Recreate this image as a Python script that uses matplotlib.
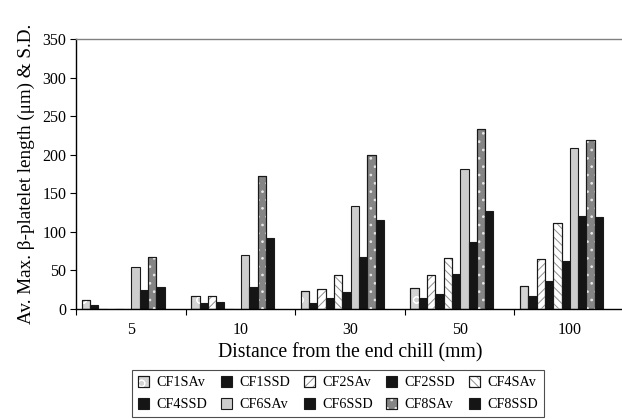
import numpy as np
import matplotlib
matplotlib.use("Agg")
import matplotlib.pyplot as plt
from matplotlib.patches import Patch

plt.rcParams['font.family'] = ['Liberation Serif', 'DejaVu Serif']
plt.rcParams['hatch.linewidth'] = 0.7

categories = ['5', '10', '30', '50', '100']
series_names = ['CF1SAv', 'CF1SSD', 'CF2SAv', 'CF2SSD', 'CF4SAv',
                'CF4SSD', 'CF6SAv', 'CF6SSD', 'CF8SAv', 'CF8SSD']
CF1SAv = [12, 17, 23, 27, 30]
CF1SSD = [5, 8, 8, 14, 17]
CF2SAv = [0, 17, 26, 44, 65]
CF2SSD = [0, 9, 14, 20, 36]
CF4SAv = [0, 0, 44, 66, 111]
CF4SSD = [0, 0, 22, 46, 62]
CF6SAv = [55, 70, 133, 182, 209]
CF6SSD = [25, 29, 67, 87, 120]
CF8SAv = [68, 172, 199, 233, 219]
CF8SSD = [28, 92, 115, 127, 119]
values = [CF1SAv, CF1SSD, CF2SAv, CF2SSD, CF4SAv,
          CF4SSD, CF6SAv, CF6SSD, CF8SAv, CF8SSD]

# style: (face, hatch, hatch colour)
styles = [
    ('#d4d4d4', 'o', '#ffffff'),
    ('#151515', None, None),
    ('#ffffff', '////', '#909090'),
    ('#151515', None, None),
    ('#ffffff', '\\\\\\\\', '#909090'),
    ('#151515', None, None),
    ('#cdcdcd', None, None),
    ('#151515', None, None),
    ('#858585', '..', '#e8e8e8'),
    ('#151515', None, None),
]

fig = plt.figure(figsize=(6.22, 4.19), dpi=100)
ax = fig.add_axes([76/622, 1-309/419, 548/622, 270/419])

n_cat = len(categories)
x0 = np.arange(n_cat)
bw = 0.0757
start = 0.052
handles = []
for k, (vals, (fc, hatch, hc)) in enumerate(zip(values, styles)):
    xs = x0 + start + k*bw
    ax.bar(xs, vals, width=bw, align='edge', color=fc, edgecolor='#1a1a1a',
           linewidth=0.8, zorder=2)
    ph = Patch(facecolor=fc, edgecolor='#1a1a1a', linewidth=0.8)
    if hatch:
        ax.bar(xs, vals, width=bw, align='edge', fill=False, hatch=hatch,
               edgecolor=hc, linewidth=0, zorder=3)
        ax.bar(xs, vals, width=bw, align='edge', fill=False,
               edgecolor='#1a1a1a', linewidth=0.8, zorder=4)
        hp = Patch(fill=False, hatch=hatch, edgecolor=hc, linewidth=0)
        op = Patch(fill=False, edgecolor='#1a1a1a', linewidth=0.8)
        handles.append((ph, hp, op))
    else:
        handles.append(ph)

ax.set_xlim(0, n_cat)
ax.set_ylim(0, 350)
ax.set_yticks(np.arange(0, 351, 50))
ax.set_xticks(x0 + 0.5)
ax.set_xticklabels(categories)
ax.set_xticks(np.arange(0, n_cat + 1), minor=True)
ax.tick_params(axis='x', which='major', length=0, labelsize=11.5, pad=9)
ax.tick_params(axis='x', which='minor', length=4, direction='out', width=0.8)
ax.tick_params(axis='y', length=4, direction='out', width=0.8, labelsize=11.5, pad=3)

ax.spines['right'].set_visible(False)
ax.spines['top'].set_color('#808080')
ax.spines['top'].set_linewidth(1.0)
ax.spines['left'].set_linewidth(1.0)
ax.spines['bottom'].set_linewidth(1.0)

ax.set_xlabel('Distance from the end chill (mm)', fontsize=14.2, labelpad=4)
ax.set_ylabel('Av. Max. β-platelet length (μm) & S.D.', fontsize=13.8, labelpad=5)

order = [0, 5, 1, 6, 2, 7, 3, 8, 4, 9]
leg = fig.legend([handles[i] for i in order], [series_names[i] for i in order],
                 ncol=5, loc='center', bbox_to_anchor=(338/622, 1-393.5/419),
                 fontsize=10.2, frameon=True, fancybox=False, edgecolor='#222222',
                 handlelength=0.8, handleheight=0.8, handletextpad=0.5,
                 columnspacing=0.95, borderpad=0.45, labelspacing=0.6)
leg.get_frame().set_linewidth(0.8)

fig.savefig('out.png', dpi=100)
